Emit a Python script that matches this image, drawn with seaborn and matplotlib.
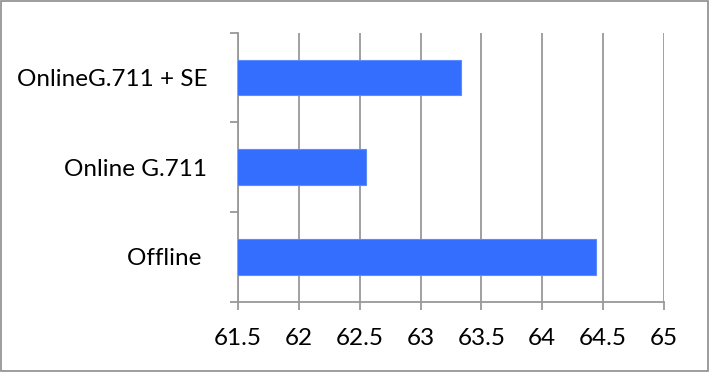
import matplotlib
matplotlib.use("Agg")
import matplotlib.pyplot as plt
import seaborn as sns
import pandas as pd
from matplotlib.patches import Rectangle
from matplotlib.ticker import FixedLocator

categories = ["OnlineG.711 + SE", "Online G.711", "Offline "]
values = [63.33, 62.55, 64.44]
xticks = [61.5, 62, 62.5, 63, 63.5, 64, 64.5, 65]
xticklabels = ["61.5", "62", "62.5", "63", "63.5", "64", "64.5", "65"]

sns.set_theme(style="white")
plt.rcParams['font.family'] = ['Lato', 'DejaVu Sans']

df = pd.DataFrame({"cat": categories, "val": values})

fig = plt.figure(figsize=(7.11, 3.72), dpi=100)
ax = fig.add_axes([238/711, 1-301.7/372, (664-238)/711, (301.7-32.7)/372])

sns.barplot(data=df, x="val", y="cat", orient="h", color="#336EFF",
            saturation=1, width=0.4, edgecolor="#5a8cff", linewidth=0.8, ax=ax, zorder=3)

ax.set_xlim(61.5, 65)
ax.set_ylim(2.5, -0.5)
ax.set_xticks(xticks)
ax.set_xticklabels(xticklabels, fontsize=17.5)
ax.set_xlabel("")
ax.set_ylabel("")
ax.grid(axis="x", color="#999999", linewidth=1.3, zorder=0)
ax.grid(axis="y", visible=False)

ax.set_yticks(range(len(categories)))
ax.set_yticklabels(categories, fontsize=17.5)
ax.yaxis.set_minor_locator(FixedLocator([-0.5, 0.5, 1.5, 2.5]))
ax.tick_params(axis="y", which="major", length=0, pad=22, colors="black")
ax.tick_params(axis="y", which="minor", length=6, width=1.3, color="#999999", left=True)
ax.tick_params(axis="x", which="major", length=6, width=1.3, color="#999999", bottom=True, pad=13, labelcolor="black")

for s in ["top", "right"]:
    ax.spines[s].set_visible(False)
ax.spines["left"].set_color("#999999")
ax.spines["left"].set_linewidth(1.3)
ax.spines["bottom"].set_color("#999999")
ax.spines["bottom"].set_linewidth(1.3)

fig.patches.append(Rectangle((0.002, 0.004), 0.994, 0.992, transform=fig.transFigure,
                             fill=False, edgecolor="#8c8c8c", linewidth=1.2))

fig.savefig("out.png", dpi=100)
